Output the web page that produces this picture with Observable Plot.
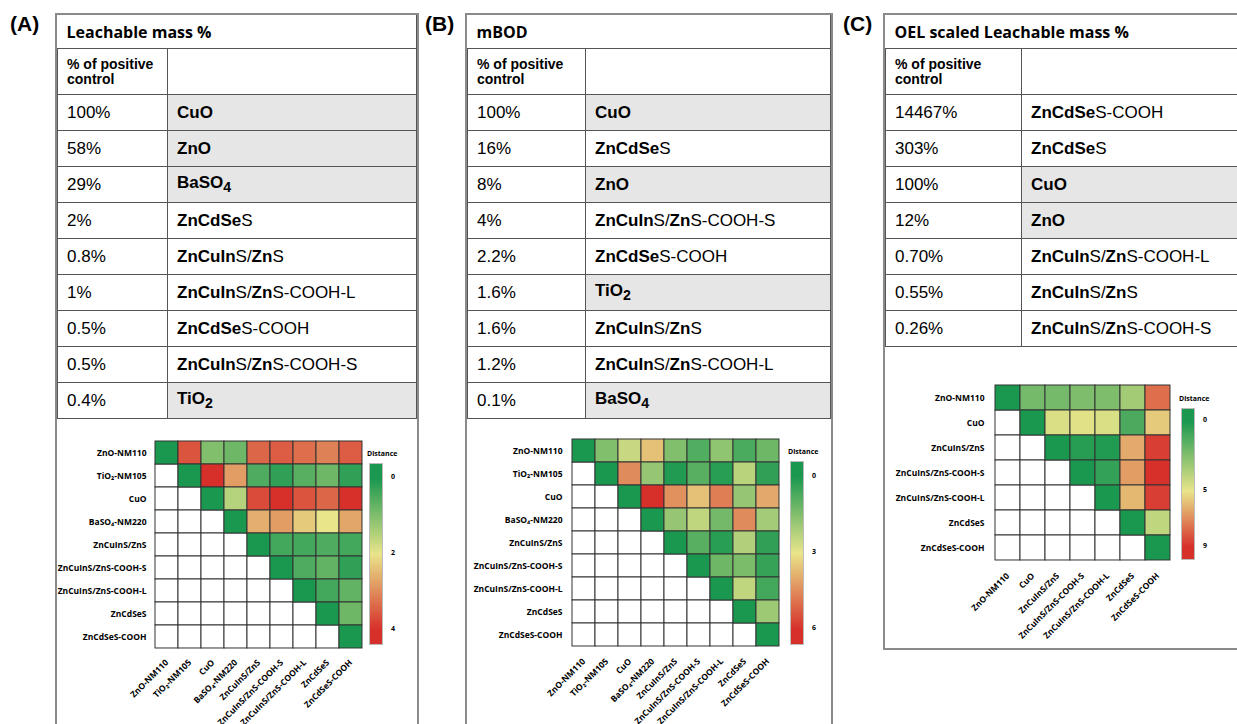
<!DOCTYPE html>
<html><head><meta charset="utf-8">
<script src="https://cdn.jsdelivr.net/npm/d3@7"></script>
<script src="https://cdn.jsdelivr.net/npm/@observablehq/plot@0.6"></script>
<style>
body{margin:0;width:1237px;height:724px;overflow:hidden;background:#fff;font-family:Arial,"Liberation Sans",sans-serif;position:relative}
.lab{position:absolute;font:bold 21px Arial;top:12px}
.box{position:absolute;border:2px solid #8a8a8a;box-sizing:border-box}
table{border-collapse:collapse;width:100%}
td{border:1px solid #555;font-size:17px;padding:0 0 0 9px;height:35px}
td.t{font:bold 16px "Open Sans",sans-serif;height:33px;border-top:none;border-left:none}
td.h{font-weight:bold;font-size:14px;height:45px;line-height:15px;vertical-align:middle}
td.g{background:#e6e6e6}
.hm{position:absolute}
.leg{position:absolute;font:bold 7px "Open Sans",sans-serif}
.bar{position:absolute;border:1px solid #bcbcbc}
</style></head><body>
<div id="root"></div>
<script>
const mats = ["ZnO-NM110","TiO₂-NM105","CuO","BaSO₄-NM220","ZnCuInS/ZnS","ZnCuInS/ZnS-COOH-S","ZnCuInS/ZnS-COOH-L","ZnCdSeS","ZnCdSeS-COOH"];
const matsC = ["ZnO-NM110","CuO","ZnCuInS/ZnS","ZnCuInS/ZnS-COOH-S","ZnCuInS/ZnS-COOH-L","ZnCdSeS","ZnCdSeS-COOH"];

// upper triangle distances, row by row
const distA = [
  [0,3.6,1.0,0.8,3.4,3.5,3.3,3.1,3.5],
  [0,4.0,2.8,0.5,0.2,0.6,0.8,0.2],
  [0,1.5,3.7,4.0,3.6,3.4,4.0],
  [0,2.6,2.8,2.3,2.0,2.7],
  [0,0.4,0.4,0.5,0.4],
  [0,0.5,0.7,0.2],
  [0,0.4,0.7],
  [0,0.8],
  [0]];
const distB = [
  [0,1.5,2.5,3.6,1.5,0.8,1.7,0.7,1.2],
  [0,4.5,1.8,0.1,0.9,0.2,2.3,0.3],
  [0,6.0,4.4,3.6,4.7,1.8,4.0],
  [0,1.8,2.4,1.3,4.5,2.0],
  [0,0.9,0.2,2.2,0.3],
  [0,1.2,1.4,0.4],
  [0,2.4,0.6],
  [0,1.9],
  [0]];
const distC = [
  [0,2.2,2.2,2.4,2.4,3.3,7.6],
  [0,4.6,4.8,4.6,1.2,5.6],
  [0,0.3,0.2,6.3,8.7],
  [0,0.6,6.6,9.0],
  [0,6.0,8.7],
  [0,4.0],
  [0]];
const legTicksA = [0,2,4], legTicksB = [0,3,6], legTicksC = [0,5,9];

const tabA = [["100%","<b>CuO</b>",1],["58%","<b>ZnO</b>",1],["29%","<b>BaSO<sub>4</sub></b>",1],["2%","<b>ZnCdSe</b>S",0],["0.8%","<b>ZnCuIn</b>S/<b>Zn</b>S",0],["1%","<b>ZnCuIn</b>S/<b>Zn</b>S-COOH-L",0],["0.5%","<b>ZnCdSe</b>S-COOH",0],["0.5%","<b>ZnCuIn</b>S/<b>Zn</b>S-COOH-S",0],["0.4%","<b>TiO<sub>2</sub></b>",1]];
const tabB = [["100%","<b>CuO</b>",1],["16%","<b>ZnCdSe</b>S",0],["8%","<b>ZnO</b>",1],["4%","<b>ZnCuIn</b>S/<b>Zn</b>S-COOH-S",0],["2.2%","<b>ZnCdSe</b>S-COOH",0],["1.6%","<b>TiO<sub>2</sub></b>",1],["1.6%","<b>ZnCuIn</b>S/<b>Zn</b>S",0],["1.2%","<b>ZnCuIn</b>S/<b>Zn</b>S-COOH-L",0],["0.1%","<b>BaSO<sub>4</sub></b>",1]];
const tabC = [["14467%","<b>ZnCdSe</b>S-COOH",0],["303%","<b>ZnCdSe</b>S",0],["100%","<b>CuO</b>",1],["12%","<b>ZnO</b>",1],["0.70%","<b>ZnCuIn</b>S/<b>Zn</b>S-COOH-L",0],["0.55%","<b>ZnCuIn</b>S/<b>Zn</b>S",0],["0.26%","<b>ZnCuIn</b>S/<b>Zn</b>S-COOH-S",0]];

const root = document.getElementById("root");
function add(html){ const d=document.createElement("div"); d.innerHTML=html; const e=d.firstElementChild; root.append(e); return e; }

function panel(letter, lx, x, w, h, title, col1, rows){
  add(`<div class="lab" style="left:${lx}px">(${letter})</div>`);
  const b = add(`<div class="box" style="left:${x}px;top:13px;width:${w}px;height:${h}px"></div>`);
  let s = `<table><tr><td class="t" colspan="2">${title}</td></tr>
    <tr><td class="h" style="width:${col1}px">% of positive<br>control</td><td></td></tr>`;
  for (const r of rows) s += `<tr><td>${r[0]}</td><td class="${r[2]?"g":""}">${r[1]}</td></tr>`;
  b.innerHTML = s + "</table>";
}

function heat(names, dist, ticks, left, top, cell, legX, legY, legH){
  const n = names.length, upper = [], lower = [];
  for (let i=0;i<n;i++) for (let j=0;j<n;j++){
    if (j>=i) upper.push({r:names[i], c:names[j], v:dist[i][j-i]});
    else lower.push({r:names[i], c:names[j]});
  }
  const [t0, tm, tmax] = ticks;
  const ml = 115, mt = 5, mb = 120;
  const p = Plot.plot({
    width: ml + cell*n + 5, height: mt + cell*n + mb,
    marginLeft: ml, marginTop: mt, marginRight: 5, marginBottom: mb,
    style: {fontFamily:"'Open Sans',sans-serif", fontSize:"8.5px", fontWeight:"bold", overflow:"visible"},
    x: {domain:names, label:null, tickRotate:-45, tickSize:0, padding:0},
    y: {domain:names, label:null, tickSize:0, padding:0},
    color: {type:"linear", domain:[t0,tm,tmax], range:["#1a9850","#e9e58a","#d7302b"]},
    marks: [
      Plot.cell(lower, {x:"c", y:"r", fill:"white", stroke:"#333", strokeWidth:1}),
      Plot.cell(upper, {x:"c", y:"r", fill:"v", stroke:"#333", strokeWidth:1})
    ]
  });
  const d = document.createElement("div"); d.className="hm";
  d.style.left=(left-ml)+"px"; d.style.top=(top-mt)+"px"; d.append(p); root.append(d);
  const f = t => 0.08 + 0.84*(t - t0)/(tmax - t0);
  add(`<div class="leg" style="left:${legX-2}px;top:${legY-14}px">Distance</div>`);
  add(`<div class="bar" style="left:${legX}px;top:${legY}px;width:12px;height:${legH}px;background:linear-gradient(#1a9850 ${f(t0)*100}%,#e9e58a ${f(tm)*100}%,#d7302b ${f(tmax)*100}%)"></div>`);
  ticks.forEach(t => add(`<div class="leg" style="left:${legX+22}px;top:${legY+legH*f(t)-5}px">${t}</div>`));
}

panel("A", 10, 55, 364, 715, "Leachable mass %", 100, tabA);
panel("B", 425, 465, 368, 715, "mBOD", 108, tabB);
panel("C", 843, 883, 360, 637, "OEL scaled Leachable mass %", 126, tabC);

heat(mats, distA, legTicksA, 155, 441, 23.1, 369, 463, 180);
heat(mats, distB, legTicksB, 571, 438, 23.3, 790, 461, 182);
heat(matsC, distC, legTicksC, 993, 383, 25.6, 1181, 408, 150);
</script>
</body></html>
